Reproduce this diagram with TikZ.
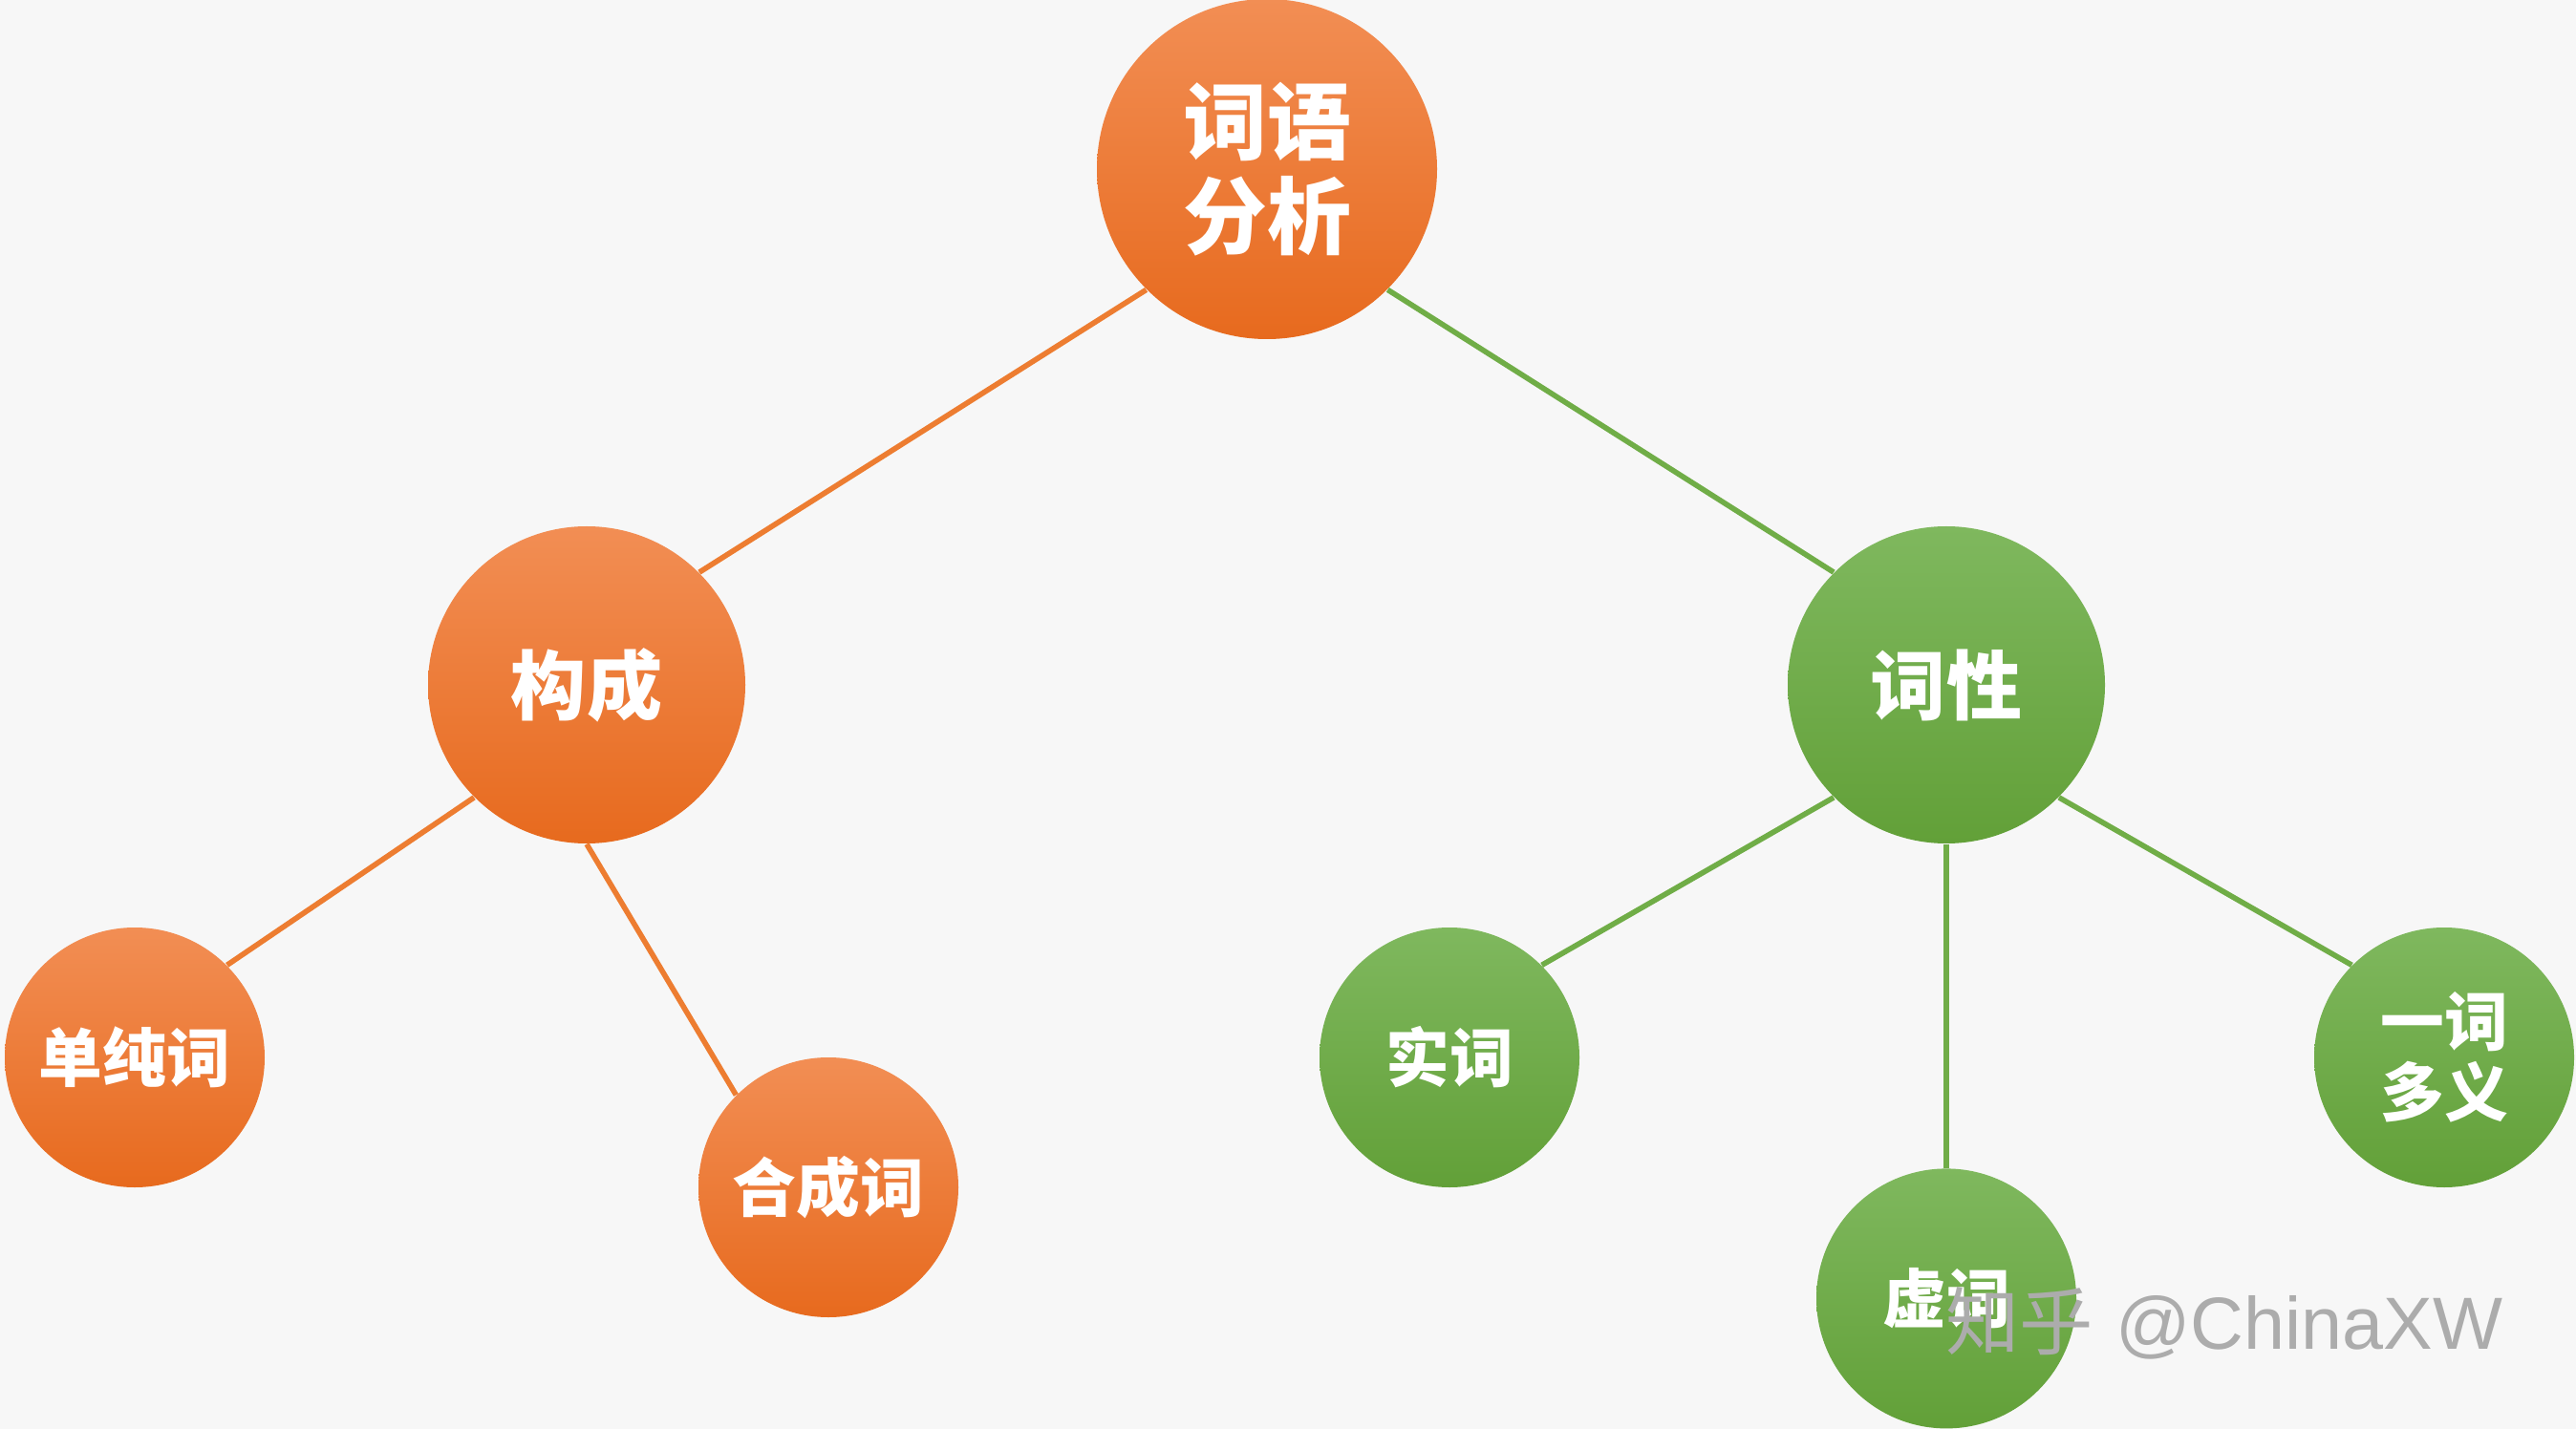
\documentclass[tikz,border=0pt]{standalone}
\usepackage{fontspec}
\usepackage{xcolor}
\newfontfamily\cjk{Noto Sans CJK SC}
\newfontfamily\latinwm{Liberation Sans}
\usetikzlibrary{positioning,calc}

\definecolor{orangetop}{RGB}{242,142,84}
\definecolor{orangebot}{RGB}{231,106,30}
\definecolor{greentop}{RGB}{127,184,94}
\definecolor{greenbot}{RGB}{98,160,56}
\definecolor{orangeline}{RGB}{237,125,49}
\definecolor{greenline}{RGB}{112,173,71}
\definecolor{paper}{RGB}{247,247,247}

\begin{document}
\begin{tikzpicture}[
    bubble/.style={circle, inner sep=0pt, align=center, text=white},
    big/.style={bubble, minimum size=3.56cm, font=\cjk\bfseries\fontsize{25}{30}\selectfont},
    mid/.style={bubble, minimum size=3.32cm, font=\cjk\bfseries\fontsize{22.5}{27}\selectfont},
    small/.style={bubble, minimum size=2.72cm, font=\cjk\bfseries\fontsize{19}{23}\selectfont},
    warm/.style={top color=orangetop, bottom color=orangebot},
    fresh/.style={top color=greentop, bottom color=greenbot},
    warmline/.style={draw=orangeline, line width=1.6pt},
    freshline/.style={draw=greenline, line width=1.6pt},
]

\useasboundingbox (0,0) rectangle (26.96,-14.96);
\fill[paper] (0,0) rectangle (26.96,-14.96);

% Level 1: root
\node[big, warm] (root) at (13.26,-1.77) {词语\\[-2pt]分析};

% Level 2
\node[mid, warm] (goucheng) at (6.14,-7.17) {构成};
\node[mid, fresh] (cixing) at (20.37,-7.17) {词性};

% Level 3: left branch
\node[small, warm] (danchun) at (1.41,-11.07) {单纯词};
\node[small, warm] (hecheng) at (8.67,-12.43) {合成词};

% Level 3: right branch
\node[small, fresh] (shici) at (15.17,-11.07) {实词};
\node[small, fresh, below=3.39cm of cixing] (xuci) {虚词};
\node[small, fresh] (yici) at (25.58,-11.07) {一词\\[-2pt]多义};

% Connectors
\draw[warmline] (root.south west) -- (goucheng.north east);
\draw[freshline] (root.south east) -- (cixing.north west);
\draw[warmline] (goucheng.south west) -- (danchun.north east);
\draw[warmline] (goucheng.south) -- (hecheng.north west);
\draw[freshline] (cixing.south west) -- (shici.north east);
\draw[freshline] (cixing.south) -- (xuci.north);
\draw[freshline] (cixing.south east) -- (yici.north west);

% Site mark
\node[text=gray!65, font=\fontsize{22}{22}\selectfont] (site) at (23.28,-13.85) {{\cjk 知乎} {\latinwm @ChinaXW}};

\end{tikzpicture}
\end{document}
